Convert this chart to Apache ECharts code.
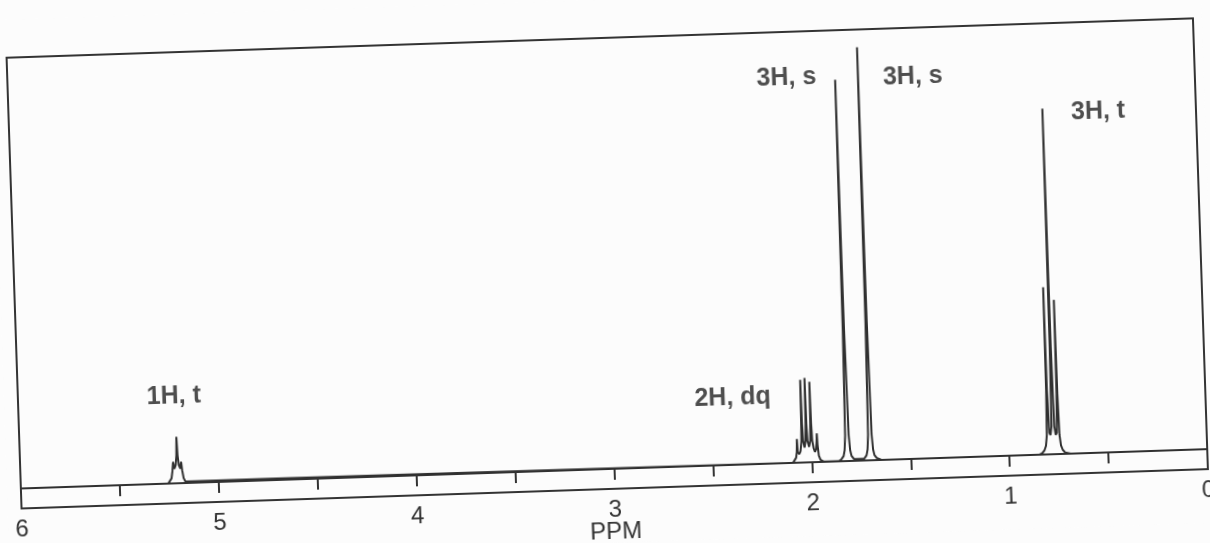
<!DOCTYPE html>
<html>
<head>
<meta charset="utf-8">
<script src="https://cdn.jsdelivr.net/npm/echarts@6/dist/echarts.min.js"></script>
<style>
html, body { margin:0; padding:0; background:#fcfcfc; overflow:hidden; width:1210px; height:543px; }
#chart { width:1210px; height:543px; transform:rotate(-1.9deg); transform-origin:605px 271.5px; }
</style>
</head>
<body>
<div id="chart"></div>
<script>
// Axis ticks (ppm)
const tickLabels = ['0', '1', '2', '3', '4', '5', '6'];

const tracePpm = [
  6.00, 5.255,
  5.245, 5.237, 5.231, 5.227, 5.221, 5.214, 5.209, 5.206, 5.203, 5.198, 5.191, 5.186, 5.182, 5.176, 5.168, 5.158,
  2.095, 2.085, 2.078, 2.074, 2.0715, 2.069, 2.062, 2.055, 2.049, 2.047, 2.045, 2.043, 2.040, 2.034, 2.028, 2.025,
  2.023, 2.021, 2.018, 2.011, 2.004, 2.001, 1.999, 1.997, 1.994, 1.988, 1.982, 1.976, 1.972, 1.970, 1.968, 1.963,
  1.955, 1.940,
  1.860, 1.849, 1.838, 1.832, 1.827, 1.8213, 1.818, 1.8147, 1.809, 1.804, 1.798, 1.787, 1.760,
  1.733, 1.722, 1.716, 1.711, 1.7053, 1.702, 1.6987, 1.693, 1.688, 1.682, 1.671, 1.650,
  0.850, 0.835, 0.822, 0.814, 0.808, 0.804, 0.802, 0.800, 0.795, 0.789, 0.783, 0.7787, 0.776, 0.7733, 0.769, 0.763,
  0.757, 0.752, 0.750, 0.748, 0.744, 0.738, 0.730, 0.717, 0.690, 0.00
];
const traceIntensity = [
  0, 0,
  0.4, 1.2, 3.0, 5.0, 3.4, 4.2, 6.5, 10.8, 6.5, 4.2, 3.4, 5.0, 3.0, 1.2, 0.4, 0,
  0, 0.4, 1.2, 2.5, 5.5, 2.5, 2.0, 2.6, 5, 9, 19.2, 9, 5, 3.5, 5, 9,
  19.6, 9, 5, 3.6, 5, 9, 18.7, 9, 5, 3.2, 2.4, 3.0, 5, 6.7, 4, 1.5,
  0.5, 0.1,
  0.1, 0.5, 1.2, 2.5, 6, 30, 88.5, 30, 6, 2.5, 1.2, 0.5, 0.4,
  0.5, 1.2, 2.5, 6, 32, 95.9, 32, 6, 2.5, 1.2, 0.5, 0.1,
  0, 0.3, 1.0, 2.0, 4.5, 15, 38.8, 15, 5, 4.5, 6.5, 25, 80.2, 25, 6.5, 4.5,
  5, 14, 35.8, 14, 4.5, 2.0, 1.0, 0.3, 0, 0
];

// Peak annotations
const peakLabels = ['3H, s', '3H, s', '3H, t', '1H, t', '2H, dq'];
const labelPpm = [2.064, 1.425, 0.495, 5.212, 2.389];
const labelIntensity = [89.3, 88.6, 79.1, 20.1, 15.6];

const ink = '#333333';
const font = 'Liberation Sans, Arial, Helvetica, sans-serif';

const chart = echarts.init(document.getElementById('chart'), null, { renderer: 'canvas' });
chart.setOption({
  animation: false,
  backgroundColor: '#fcfcfc',
  grid: {
    left: 14, right: 9, top: 38, bottom: 54, show: true,
    borderColor: ink, borderWidth: 2, backgroundColor: 'transparent',
    containLabel: false, outerBoundsMode: 'none'
  },
  xAxis: {
    type: 'value', min: 0, max: 6, interval: 0.5, inverse: true,
    axisLine: { show: true, lineStyle: { color: ink, width: 2 } },
    axisTick: { show: true, length: 11, lineStyle: { color: ink, width: 2 } },
    axisLabel: {
      margin: 9, fontSize: 24, color: ink, fontFamily: font,
      formatter: v => (tickLabels.indexOf(String(v)) >= 0 ? String(v) : '')
    },
    splitLine: { show: false },
    name: 'PPM', nameLocation: 'middle', nameGap: 31, nameMoveOverlap: false,
    nameTextStyle: { fontSize: 24, color: ink, fontFamily: font }
  },
  yAxis: { type: 'value', min: -4.62, max: 100, show: false },
  series: [
    {
      type: 'line',
      data: tracePpm.map((p, i) => [p, traceIntensity[i]]),
      showSymbol: false, symbol: 'none', silent: true,
      lineStyle: { color: '#303030', width: 2 }
    },
    {
      type: 'scatter',
      data: labelPpm.map((p, i) => [p, labelIntensity[i], peakLabels[i]]),
      symbolSize: 1, silent: true,
      itemStyle: { color: 'rgba(0,0,0,0)' },
      label: {
        show: true, position: 'inside', formatter: p => p.data[2],
        fontSize: 25, fontWeight: 'bold', color: '#222222', fontFamily: font
      }
    }
  ]
});
</script>
</body>
</html>
